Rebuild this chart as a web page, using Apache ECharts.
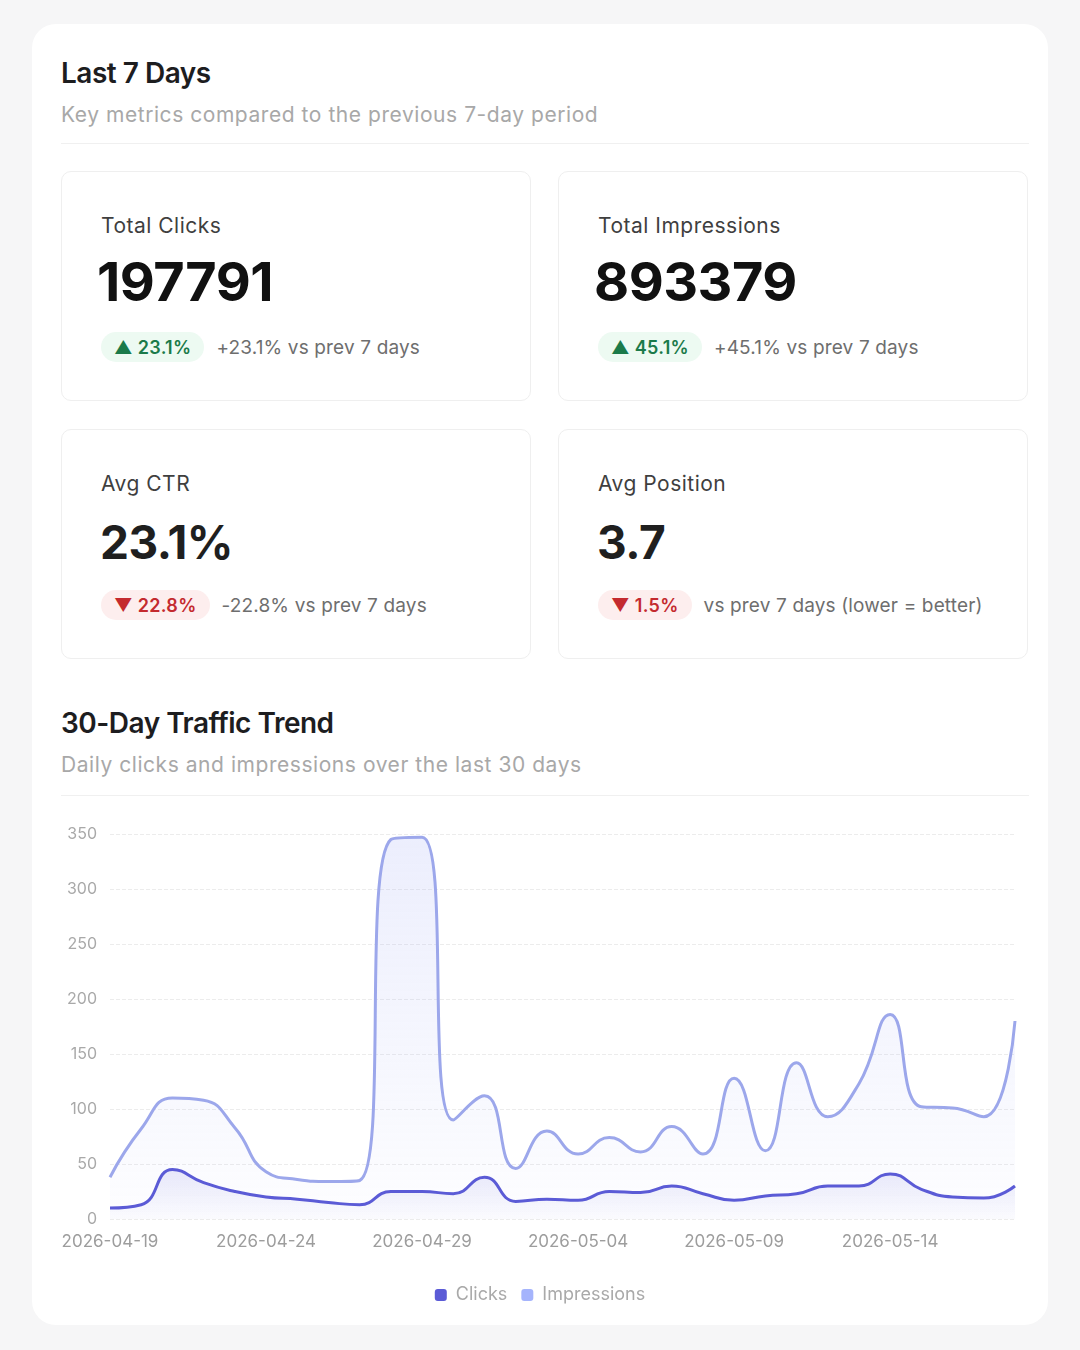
<!DOCTYPE html>
<html>
<head>
<meta charset="utf-8">
<script src="https://cdn.jsdelivr.net/npm/echarts@6/dist/echarts.min.js"></script>
<style>
  html, body { margin: 0; padding: 0; background: #f6f6f7; }
  body { width: 1080px; height: 1350px; position: relative; font-family: Inter, "Noto Sans", sans-serif; overflow: hidden; }
  .panel { position: absolute; left: 32px; top: 24px; width: 1016px; height: 1301px; background: #fff; border-radius: 24px; }
  .h { position: absolute; left: 61px; font-size: 28px; font-weight: 600; color: #1d1d1f; letter-spacing: -0.5px; line-height: 34px; }
  .sub { position: absolute; left: 61px; font-size: 21px; color: #a8a8a8; line-height: 28px; letter-spacing: 0.55px; }
  .rule { position: absolute; left: 61px; width: 968px; height: 1px; background: #f0f0f0; }
  .card { position: absolute; width: 470px; height: 230px; border: 1px solid #efefef; border-radius: 10px; box-sizing: border-box; background: #fff; }
  .card .lbl { position: absolute; left: 39px; top: 40px; font-size: 21px; color: #3f3f3f; line-height: 28px; letter-spacing: 0.5px; }
  .card .num { position: absolute; left: 35px; top: 80px; font-size: 54px; font-weight: 700; color: #111; line-height: 60px; letter-spacing: -0.5px; }
  .card .num.sm { font-size: 46px; top: 82px; left: 38px; color: #1f1f1f; }
  .card .foot { position: absolute; left: 39px; top: 160px; height: 30px; display: flex; align-items: center; }
  .pill { height: 30px; padding: 0 13px; border-radius: 15px; font-size: 18px; font-weight: 600; display: flex; align-items: center; letter-spacing: 0.3px; }
  .pill.up { background: #edfaf2; color: #1b7a4a; }
  .pill.down { background: #fdeeee; color: #c42a2f; }
  .note { margin-left: 12px; font-size: 19px; color: #6e6e6e; letter-spacing: 0.15px; }
  #chart { position: absolute; left: 40px; top: 805px; width: 1000px; height: 515px; }
</style>
</head>
<body>
<div class="panel"></div>
<div class="h" style="top:56px">Last 7 Days</div>
<div class="sub" style="top:101px">Key metrics compared to the previous 7-day period</div>
<div class="rule" style="top:143px"></div>
<div id="cards"></div>
<div class="h" style="top:706px">30-Day Traffic Trend</div>
<div class="sub" style="top:751px">Daily clicks and impressions over the last 30 days</div>
<div class="rule" style="top:795px"></div>
<div id="chart"></div>
<script>
// kpi cards
const kpiLabels = ['Total Clicks', 'Total Impressions', 'Avg CTR', 'Avg Position']
const kpiValues = ['197791', '893379', '23.1%', '3.7']
const kpiBadges = ['▲ 23.1%', '▲ 45.1%', '▼ 22.8%', '▼ 1.5%']
const kpiNotes = ['+23.1% vs prev 7 days', '+45.1% vs prev 7 days', '-22.8% vs prev 7 days', 'vs prev 7 days (lower = better)']

// 30-day trend
const days = ['2026-04-19', '2026-04-20', '2026-04-21', '2026-04-22', '2026-04-23', '2026-04-24', '2026-04-25', '2026-04-26',
    '2026-04-27', '2026-04-28', '2026-04-29', '2026-04-30', '2026-05-01', '2026-05-02', '2026-05-03', '2026-05-04',
    '2026-05-05', '2026-05-06', '2026-05-07', '2026-05-08', '2026-05-09', '2026-05-10', '2026-05-11', '2026-05-12',
    '2026-05-13', '2026-05-14', '2026-05-15', '2026-05-16', '2026-05-17', '2026-05-18']
const clicks = [10, 13, 45, 33, 25, 20, 18, 15, 13, 25, 25, 23, 38, 16, 18, 17, 25, 24, 30, 23, 17, 21, 23, 30, 30, 41, 27, 20, 19, 30]
const impressions = [38, 82, 110, 108, 83, 43, 36, 34, 35, 345, 347, 90, 112, 46, 80, 59, 74, 61, 84, 59, 128, 62, 142, 93, 123, 186, 102, 101, 93, 180]
const yTicks = [0, 50, 100, 150, 200, 250, 300, 350]

const cardsEl = document.getElementById('cards')
kpiLabels.forEach((label, i) => {
    const col = i % 2, row = Math.floor(i / 2)
    const c = document.createElement('div')
    c.className = 'card'
    c.style.left = (col ? 558 : 61) + 'px'
    c.style.top = (row ? 429 : 171) + 'px'
    const down = kpiBadges[i].startsWith('▼')
    c.innerHTML = '<div class="lbl">' + label + '</div>' +
        '<div class="num' + (row ? ' sm' : '') + '">' + kpiValues[i] + '</div>' +
        '<div class="foot"><span class="pill ' + (down ? 'down' : 'up') + '">' + kpiBadges[i] + '</span>' +
        '<span class="note">' + kpiNotes[i] + '</span></div>'
    cardsEl.appendChild(c)
})

const chart = echarts.init(document.getElementById('chart'))
const font = 'Inter, "Noto Sans", sans-serif'
chart.setOption({
    animation: false,
    textStyle: {fontFamily: font},
    grid: {left: 70, right: 25, top: 29, bottom: 101, containLabel: false},
    legend: {
        data: ['Clicks', 'Impressions'],
        top: 476,
        left: 'center',
        icon: 'roundRect',
        itemWidth: 12,
        itemHeight: 12,
        itemGap: 14,
        textStyle: {color: '#a9a9a9', fontSize: 18, fontFamily: font, padding: [0, 0, 0, 4]}
    },
    xAxis: {
        type: 'category',
        data: days,
        boundaryGap: false,
        axisLine: {show: false},
        axisTick: {show: false},
        axisLabel: {interval: 4, color: '#9d9d9d', fontSize: 17, margin: 14, fontFamily: font}
    },
    yAxis: {
        type: 'value',
        min: 0,
        max: yTicks[yTicks.length - 1],
        interval: 50,
        axisLine: {show: false},
        axisTick: {show: false},
        axisLabel: {color: '#a9a9a9', fontSize: 16, margin: 13, fontFamily: font},
        splitLine: {lineStyle: {color: '#ececec', type: 'dashed'}}
    },
    series: [
        {
            name: 'Impressions',
            type: 'line',
            data: impressions,
            smooth: 0.5,
            showSymbol: false,
            z: 2,
            itemStyle: {color: '#a5b4fc'},
            lineStyle: {color: '#9ca7eb', width: 3},
            areaStyle: {
                color: new echarts.graphic.LinearGradient(0, 0, 0, 1, [
                    {offset: 0, color: 'rgba(165,175,245,0.30)'},
                    {offset: 1, color: 'rgba(165,175,245,0.03)'}
                ])
            }
        },
        {
            name: 'Clicks',
            type: 'line',
            data: clicks,
            smooth: 0.5,
            showSymbol: false,
            z: 3,
            itemStyle: {color: '#5b5bd6'},
            lineStyle: {color: '#5b5bd6', width: 3},
            areaStyle: {
                color: new echarts.graphic.LinearGradient(0, 0, 0, 1, [
                    {offset: 0, color: 'rgba(91,91,214,0.18)'},
                    {offset: 1, color: 'rgba(91,91,214,0.02)'}
                ])
            }
        }
    ]
})
</script>
</body>
</html>
